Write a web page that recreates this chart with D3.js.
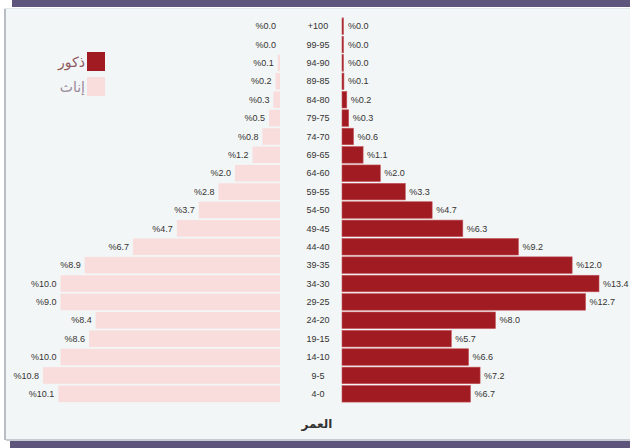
<!DOCTYPE html>
<html><head><meta charset="utf-8">
<script src="https://cdn.jsdelivr.net/npm/d3@7"></script>
<style>html,body{margin:0;padding:0;background:#fff;}svg{display:block;}</style>
</head><body>
<script>
const ageGroups = ["+100","99-95","94-90","89-85","84-80","79-75","74-70","69-65","64-60","59-55","54-50","49-45","44-40","39-35","34-30","29-25","24-20","19-15","14-10","9-5","4-0"];
// Bar lengths (%)
const femaleValues = [0.0,0.0,0.1,0.2,0.3,0.5,0.8,1.25,2.05,2.8,3.7,4.7,6.7,8.9,10.0,10.0,8.4,8.7,10.0,10.8,10.1];
const maleValues   = [0.0,0.0,0.0,0.1,0.25,0.35,0.6,1.1,2.0,3.3,4.7,6.3,9.2,12.0,13.4,12.7,8.0,5.7,6.6,7.2,6.7];
// Printed labels
const femaleLabels = ["%0.0","%0.0","%0.1","%0.2","%0.3","%0.5","%0.8","%1.2","%2.0","%2.8","%3.7","%4.7","%6.7","%8.9","%10.0","%9.0","%8.4","%8.6","%10.0","%10.8","%10.1"];
const maleLabels   = ["%0.0","%0.0","%0.0","%0.1","%0.2","%0.3","%0.6","%1.1","%2.0","%3.3","%4.7","%6.3","%9.2","%12.0","%13.4","%12.7","%8.0","%5.7","%6.6","%7.2","%6.7"];
const legendItems = [{name:"ذكور", color:"#a11b22", text:"#8c5a5e"},{name:"إناث", color:"#f9dcdc", text:"#9a8a9a"}];
const axisTitle = "العمر";

const W = 630, H = 448;
const svg = d3.select("body").append("svg").attr("width", W).attr("height", H);

// frame
svg.append("rect").attr("x",0).attr("y",0).attr("width",W).attr("height",H).attr("fill","#ffffff");
svg.append("rect").attr("x",5).attr("y",8).attr("width",W-5).attr("height",432).attr("fill","#f3f6f6");
svg.append("rect").attr("x",4).attr("y",8).attr("width",2).attr("height",432).attr("fill","#b9bec4");
svg.append("rect").attr("x",4).attr("y",8).attr("width",W-4).attr("height",1).attr("fill","#dfe8ea");
svg.append("rect").attr("x",12).attr("y",0).attr("width",W-12).attr("height",7).attr("fill","#5e557c");
svg.append("rect").attr("x",6).attr("y",439).attr("width",W-6).attr("height",2).attr("fill","#c6ccd2");
svg.append("rect").attr("x",10).attr("y",441).attr("width",W-10).attr("height",7).attr("fill","#5e557c");

const y = d3.scaleBand().domain(ageGroups).range([17, 403]).paddingInner(0.1).paddingOuter(0.05);
const xMale = d3.scaleLinear().domain([0, 13.4]).range([342, 599]);
const xFemale = d3.scaleLinear().domain([0, 10.8]).range([280, 43]);

const font = "Liberation Sans, Arial, sans-serif";

// female bars
svg.append("g").selectAll("rect").data(ageGroups).join("rect")
  .attr("x", (d,i) => xFemale(femaleValues[i]))
  .attr("y", d => y(d))
  .attr("width", (d,i) => xFemale(0) - xFemale(femaleValues[i]))
  .attr("height", y.bandwidth())
  .attr("fill", legendItems[1].color);

// male bars
svg.append("g").selectAll("rect").data(ageGroups).join("rect")
  .attr("x", xMale(0))
  .attr("y", d => y(d))
  .attr("width", (d,i) => Math.max(1.5, xMale(maleValues[i]) - xMale(0)))
  .attr("height", y.bandwidth())
  .attr("fill", legendItems[0].color)
  .attr("stroke", "#c2565b").attr("stroke-width", 0.6);

// female labels
svg.append("g").selectAll("text").data(ageGroups).join("text")
  .attr("x", (d,i) => xFemale(femaleValues[i]) - 4)
  .attr("y", d => y(d) + y.bandwidth()/2)
  .attr("dy", "0.35em").attr("text-anchor", "end")
  .attr("font-family", font).attr("font-size", 9).attr("fill", "#333")
  .attr("direction","ltr")
  .text((d,i) => femaleLabels[i]);

// male labels
svg.append("g").selectAll("text").data(ageGroups).join("text")
  .attr("x", (d,i) => Math.max(xMale(0)+2, xMale(maleValues[i])) + 4)
  .attr("y", d => y(d) + y.bandwidth()/2)
  .attr("dy", "0.35em").attr("text-anchor", "start")
  .attr("font-family", font).attr("font-size", 9).attr("fill", "#333")
  .attr("direction","ltr")
  .text((d,i) => maleLabels[i]);

// age labels
svg.append("g").selectAll("text").data(ageGroups).join("text")
  .attr("x", 318)
  .attr("y", d => y(d) + y.bandwidth()/2)
  .attr("dy", "0.35em").attr("text-anchor", "middle")
  .attr("font-family", font).attr("font-size", 9).attr("fill", "#333")
  .attr("direction","ltr")
  .text(d => d);

// axis title
svg.append("text").attr("x", 317).attr("y", 428).attr("text-anchor","middle")
  .attr("font-family", "DejaVu Sans, sans-serif").attr("font-size", 12).attr("font-weight","bold").attr("fill","#333")
  .text(axisTitle);

// legend
const lg = svg.append("g");
legendItems.forEach((it, i) => {
  lg.append("rect").attr("x", 87).attr("y", 52 + i*25).attr("width", 18).attr("height", 19).attr("fill", it.color);
  lg.append("text").attr("x", 85).attr("y", 62 + i*25).attr("dy","0.35em").attr("text-anchor","end")
    .attr("font-family", "DejaVu Sans, sans-serif").attr("font-size", 14).attr("fill", it.text)
    .text(it.name);
});
</script>
</body></html>
